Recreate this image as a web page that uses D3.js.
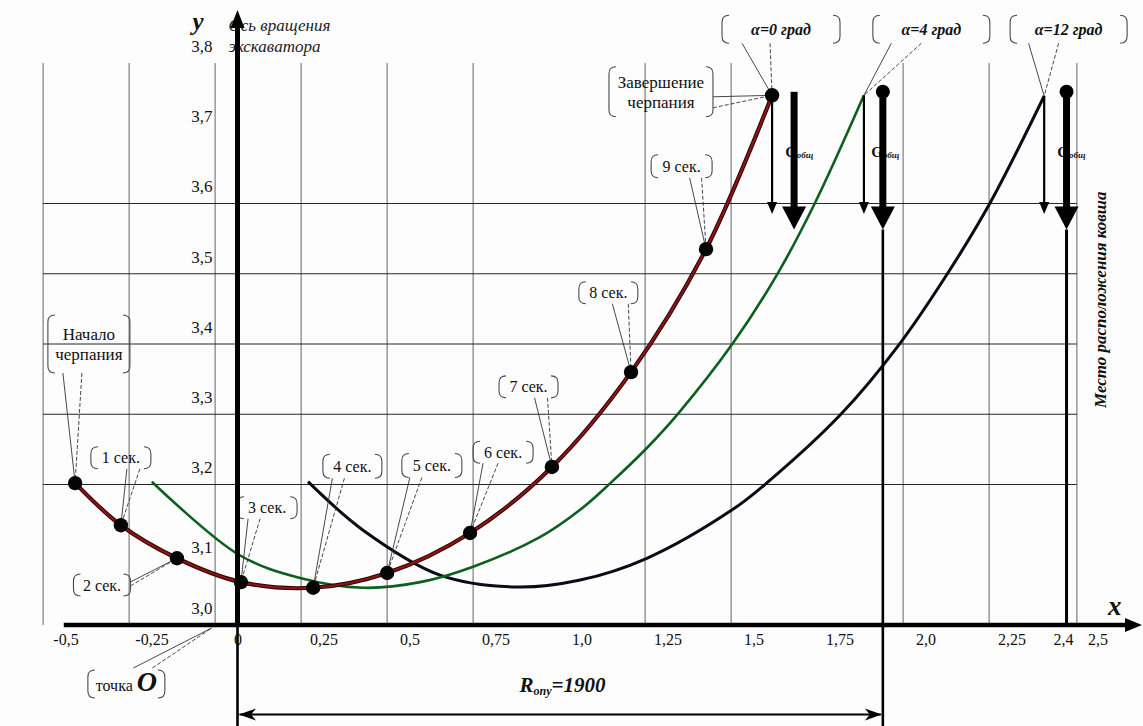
<!DOCTYPE html>
<html lang="ru">
<head>
<meta charset="utf-8">
<title>Траектория ковша экскаватора</title>
<script src="https://cdn.jsdelivr.net/npm/d3@7"></script>
<style>
  body { margin: 0; background: #fff; }
  svg { display: block; }
  svg text { font-family: "Liberation Serif", "Times New Roman", Tinos, "Noto Serif", "DejaVu Serif", serif; }
</style>
</head>
<body>
<svg id="chart" width="1143" height="726" font-family="Liberation Serif, Times New Roman, DejaVu Serif, serif"></svg>
<script>
// ── data (x, y in metres) ──
const xTicks = [-0.5, -0.25, 0, 0.25, 0.5, 0.75, 1.0, 1.25, 1.5, 1.75, 2.0, 2.25, 2.4, 2.5];
const xTickLabels = ["-0,5", "-0,25", "0", "0,25", "0,5", "0,75", "1,0", "1,25", "1,5", "1,75", "2,0", "2,25", "2,4", "2,5"];
const yTicks = [3.0, 3.1, 3.2, 3.3, 3.4, 3.5, 3.6, 3.7, 3.8];
const yTickLabels = ["3,0", "3,1", "3,2", "3,3", "3,4", "3,5", "3,6", "3,7", "3,8"];

// grid of the original sheet (it is not aligned to the tick labels)
const gridX = [-0.565, -0.315, -0.065, 0.185, 0.435, 0.685, 1.185, 1.435, 1.935, 2.185, 2.44];
const gridY = [3.2, 3.3, 3.4, 3.5, 3.6];

// α = 0 град: start, 1..9 s, end of digging
const pathAlpha0 = [
  [-0.472, 3.202], [-0.339, 3.142], [-0.176, 3.095], [0.010, 3.061], [0.220, 3.053],
  [0.435, 3.074], [0.676, 3.131], [0.914, 3.225], [1.144, 3.360], [1.362, 3.535], [1.554, 3.754]
];
// α = 4 град
const pathAlpha4 = [
  [-0.249, 3.204], [0.004, 3.100], [0.182, 3.067], [0.365, 3.053], [0.531, 3.061],
  [0.685, 3.083], [0.879, 3.125], [0.996, 3.164], [1.084, 3.202], [1.190, 3.252],
  [1.281, 3.301], [1.440, 3.401], [1.571, 3.501], [1.679, 3.601], [1.821, 3.754]
];
// α = 12 град
const pathAlpha12 = [
  [0.205, 3.204], [0.365, 3.135], [0.589, 3.071], [0.812, 3.054], [0.996, 3.064],
  [1.190, 3.095], [1.438, 3.164], [1.538, 3.202], [1.756, 3.301], [1.926, 3.401],
  [2.065, 3.501], [2.188, 3.601], [2.345, 3.753]
];

const radiusX = 1.876;   // Rопу = 1900 (as drawn)
const bucketX = 2.41;    // место расположения ковша
const loadX = 1.618;     // first Gобщ arrow

// ── annotation layout ──
const callouts = [
  { text: ["Начало", "черпания"], cx: -0.432, cy: 3.400, w: 82, h: 58, size: 17, target: pathAlpha0[0], side: "bottom", lead: [-26, -7] },
  { text: ["1 сек."], cx: -0.339, cy: 3.238, w: 60, h: 22, size: 16, target: pathAlpha0[1], side: "bottom", lead: [6, 19] },
  { text: ["2 сек."], cx: -0.394, cy: 3.057, w: 57, h: 22, size: 16, target: pathAlpha0[2], side: "right", lead: [-3, 1] },
  { text: ["3 сек."], cx: 0.086, cy: 3.167, w: 60, h: 22, size: 16, target: pathAlpha0[3], side: "bottom", lead: [-19, -7] },
  { text: ["4 сек."], cx: 0.334, cy: 3.226, w: 59, h: 24, size: 16, target: pathAlpha0[4], side: "bottom", lead: [-20, -8] },
  { text: ["5 сек."], cx: 0.565, cy: 3.227, w: 60, h: 24, size: 16, target: pathAlpha0[5], side: "bottom", lead: [-22, -10] },
  { text: ["6 сек."], cx: 0.772, cy: 3.246, w: 60, h: 22, size: 16, target: pathAlpha0[6], side: "bottom", lead: [-20, -5] },
  { text: ["7 сек."], cx: 0.846, cy: 3.339, w: 59, h: 22, size: 16, target: pathAlpha0[7], side: "bottom", lead: [6, 19] },
  { text: ["8 сек."], cx: 1.078, cy: 3.473, w: 59, h: 22, size: 16, target: pathAlpha0[8], side: "bottom", lead: [4, 20] },
  { text: ["9 сек."], cx: 1.291, cy: 3.653, w: 61, h: 23, size: 16, target: pathAlpha0[9], side: "bottom", lead: [8, 20] },
  { text: ["Завершение", "черпания"], cx: 1.231, cy: 3.759, w: 104, h: 50, size: 17, target: pathAlpha0[10], side: "right", lead: [5, 16] },
  { text: ["α=0 град"], cx: 1.580, cy: 3.848, w: 118, h: 28, size: 16, bold: true, target: pathAlpha0[10], side: "bottom", lead: [-39, -11] },
  { text: ["α=4 град"], cx: 2.017, cy: 3.848, w: 117, h: 28, size: 16, bold: true, target: pathAlpha4[pathAlpha4.length - 1], side: "bottom", lead: [-40, -10] },
  { text: ["α=12 град"], cx: 2.416, cy: 3.848, w: 117, h: 28, size: 16, bold: true, target: pathAlpha12[pathAlpha12.length - 1], side: "bottom", lead: [-40, -10] }
];
const originCallout = { cx: -0.323, cy: 2.916, w: 77, h: 28, target: [-0.075, 3.0], lead: [7, 26] };

// ── scales ──
const W = 1143, H = 726;
const serif = "Liberation Serif, Times New Roman, DejaVu Serif, serif";
const x = d3.scaleLinear().domain([-0.5, 2.5]).range([65.5, 1097.5]);
const y = d3.scaleLinear().domain([3.0, 3.8]).range([625, 63]);
const x0 = x(0), yBase = y(3.0);

const svg = d3.select("#chart");
svg.append("rect").attr("width", W).attr("height", H).attr("fill", "#fdfdfd");

// ── grid ──
svg.append("g").selectAll("line").data(gridX).join("line")
  .attr("x1", d => x(d)).attr("x2", d => x(d))
  .attr("y1", y(3.8)).attr("y2", yBase)
  .attr("stroke", "#8f8f8f").attr("stroke-width", 1.4);

svg.append("g").selectAll("line").data(gridY).join("line")
  .attr("x1", x(gridX[0])).attr("x2", x(gridX[gridX.length - 1]))
  .attr("y1", d => y(d)).attr("y2", d => y(d))
  .attr("stroke", "#262626").attr("stroke-width", 1.2);

// ── tick labels ──
const xAxisG = svg.append("g")
  .attr("transform", `translate(0,${yBase})`)
  .call(d3.axisBottom(x).tickValues(xTicks).tickFormat((d, i) => xTickLabels[i]).tickSize(0).tickPadding(9));
xAxisG.select(".domain").remove();
xAxisG.attr("font-family", serif).attr("font-size", 16);
xAxisG.selectAll("text").attr("fill", "#111");

const yAxisG = svg.append("g")
  .attr("transform", `translate(${x0},0)`)
  .call(d3.axisLeft(y).tickValues(yTicks).tickFormat((d, i) => yTickLabels[i]).tickSize(0).tickPadding(25));
yAxisG.select(".domain").remove();
yAxisG.attr("font-family", serif).attr("font-size", 17);
yAxisG.selectAll("text").attr("fill", "#111").attr("y", d => d === 3.1 ? -8 : -17);

// ── trajectories ──
const line = d3.line().x(d => x(d[0])).y(d => y(d[1])).curve(d3.curveCatmullRom.alpha(0.5));

svg.append("path").datum(pathAlpha12).attr("d", line)
  .attr("fill", "none").attr("stroke", "#0b0b18").attr("stroke-width", 3);
svg.append("path").datum(pathAlpha4).attr("d", line)
  .attr("fill", "none").attr("stroke", "#0d5f1c").attr("stroke-width", 2.6);
svg.append("path").datum(pathAlpha0).attr("d", line)
  .attr("fill", "none").attr("stroke", "#2a0505").attr("stroke-width", 4.2);
svg.append("path").datum(pathAlpha0).attr("d", line)
  .attr("fill", "none").attr("stroke", "#8a1414").attr("stroke-width", 2.2);

// ── callouts ──
const cg = svg.append("g");

function bracket(g, X0, Y0, X1, Y1) {
  const r = 7;
  g.append("path")
    .attr("d", `M${X0 + r},${Y0} Q${X0},${Y0} ${X0},${Y0 + r} V${Y1 - r} Q${X0},${Y1} ${X0 + r},${Y1}`)
    .attr("fill", "none").attr("stroke", "#4a4a4a").attr("stroke-width", 1.1);
  g.append("path")
    .attr("d", `M${X1 - r},${Y0} Q${X1},${Y0} ${X1},${Y0 + r} V${Y1 - r} Q${X1},${Y1} ${X1 - r},${Y1}`)
    .attr("fill", "none").attr("stroke", "#4a4a4a").attr("stroke-width", 1.1);
}

function leaders(g, starts, tx, ty) {
  starts.forEach((p, i) => {
    g.append("line")
      .attr("x1", p[0]).attr("y1", p[1]).attr("x2", tx).attr("y2", ty)
      .attr("stroke", "#333").attr("stroke-width", 0.9)
      .attr("stroke-dasharray", i === 0 ? null : "4,2");
  });
}

callouts.forEach(c => {
  const CX = x(c.cx), CY = y(c.cy);
  const X0 = CX - c.w / 2, X1 = CX + c.w / 2, Y0 = CY - c.h / 2, Y1 = CY + c.h / 2;
  const tx = x(c.target[0]), ty = y(c.target[1]);
  let starts;
  if (c.side === "right") starts = c.lead.map(d => [X1, CY + d]);
  else starts = c.lead.map(d => [CX + d, Y1]);
  leaders(cg, starts, tx, ty);
  bracket(cg, X0, Y0, X1, Y1);
  const lh = c.size * 1.2;
  const t = cg.append("text")
    .attr("text-anchor", "middle")
    .attr("font-family", serif)
    .attr("font-size", c.size)
    .attr("font-style", c.bold ? "italic" : null)
    .attr("font-weight", c.bold ? "bold" : null)
    .attr("fill", "#111");
  c.text.forEach((s, i) => {
    t.append("tspan")
      .attr("x", CX)
      .attr("y", CY + (i - (c.text.length - 1) / 2) * lh)
      .attr("dy", "0.35em")
      .text(s);
  });
});

// точка O
{
  const c = originCallout;
  const CX = x(c.cx), CY = y(c.cy);
  const X0 = CX - c.w / 2, X1 = CX + c.w / 2, Y0 = CY - c.h / 2, Y1 = CY + c.h / 2;
  leaders(cg, c.lead.map(d => [CX + d, Y0 - 2]), x(c.target[0]), y(c.target[1]) + 3);
  bracket(cg, X0, Y0, X1, Y1);
  const t = cg.append("text").attr("x", CX).attr("y", CY + 7).attr("text-anchor", "middle")
    .attr("font-family", serif).attr("fill", "#111");
  t.append("tspan").attr("font-size", 16).text("точка ");
  t.append("tspan").attr("font-size", 28).attr("font-weight", "bold").attr("font-style", "italic").text("O");
}

// ── time-mark dots on α = 0 path ──
svg.append("g").selectAll("circle").data(pathAlpha0).join("circle")
  .attr("cx", d => x(d[0])).attr("cy", d => y(d[1])).attr("r", 7.2)
  .attr("fill", "#050505");

// ── load arrows Gобщ ──
const arrowTop = 3.759, thickTip = 3.563, thinTip = 3.585, gLabelY = 3.673;
const ag = svg.append("g");

function arrowDown(X, top, tip, shaft, headW, headL) {
  ag.append("line").attr("x1", X).attr("x2", X).attr("y1", top).attr("y2", tip - headL + 1)
    .attr("stroke", "#000").attr("stroke-width", shaft);
  ag.append("path")
    .attr("d", `M${X - headW / 2},${tip - headL} L${X + headW / 2},${tip - headL} L${X},${tip} Z`)
    .attr("fill", "#000");
}

// Gобщ labels (partly covered by the thick arrows, as in the original)
[[loadX - 0.026], [radiusX - 0.034], [bucketX - 0.027]].forEach(d => {
  const t = ag.append("text").attr("x", x(d[0])).attr("y", y(gLabelY) + 5).attr("fill", "#111")
    .attr("font-family", serif).attr("font-weight", "bold");
  t.append("tspan").attr("font-size", 15).text("G");
  t.append("tspan").attr("font-size", 9).attr("font-style", "italic").attr("dy", 1).text("общ");
});

// thin arrows from the end of each trajectory
[pathAlpha0, pathAlpha4, pathAlpha12].forEach(p => {
  const end = p[p.length - 1];
  arrowDown(x(end[0]), y(end[1]), y(thinTip), 2.2, 10, 12);
});

// thick arrows
arrowDown(x(loadX), y(arrowTop), y(thickTip), 7, 24, 23);
arrowDown(x(radiusX), y(arrowTop), y(thickTip), 7, 24, 23);
arrowDown(x(bucketX), y(arrowTop), y(thickTip), 7, 24, 23);
[radiusX, bucketX].forEach(v => {
  ag.append("circle").attr("cx", x(v)).attr("cy", y(arrowTop)).attr("r", 7).attr("fill", "#000");
});

// continuation lines below the arrows
ag.append("line").attr("x1", x(radiusX)).attr("x2", x(radiusX))
  .attr("y1", y(thickTip)).attr("y2", H).attr("stroke", "#000").attr("stroke-width", 2.6);
ag.append("line").attr("x1", x(bucketX)).attr("x2", x(bucketX))
  .attr("y1", y(thickTip)).attr("y2", yBase).attr("stroke", "#000").attr("stroke-width", 3);

// ── axes ──
const axG = svg.append("g").attr("font-family", serif);
// "Ось вращения экскаватора" (its first letters sit under the axis)
axG.append("text").attr("x", x0 - 9).attr("y", 31).attr("font-size", 17).attr("font-style", "italic")
  .attr("fill", "#222").text("Ось вращения");
axG.append("text").attr("x", x0 - 9).attr("y", 52).attr("font-size", 17).attr("font-style", "italic")
  .attr("fill", "#222").text("экскаватора");

// y axis
axG.append("line").attr("x1", x0).attr("x2", x0).attr("y1", yBase + 2).attr("y2", 26)
  .attr("stroke", "#000").attr("stroke-width", 5);
axG.append("path").attr("d", `M${x0 - 7},${28} L${x0 + 7},${28} L${x0},${10} Z`).attr("fill", "#000");
axG.append("line").attr("x1", x0).attr("x2", x0).attr("y1", yBase).attr("y2", H)
  .attr("stroke", "#000").attr("stroke-width", 2.6);
axG.append("text").attr("x", x0 - 45).attr("y", 30).attr("font-size", 25)
  .attr("font-weight", "bold").attr("font-style", "italic").attr("fill", "#111").text("y");

// x axis
axG.append("line").attr("x1", x(-0.505)).attr("x2", W - 16).attr("y1", yBase).attr("y2", yBase)
  .attr("stroke", "#000").attr("stroke-width", 4.5);
axG.append("path").attr("d", `M${W - 18},${yBase - 7} L${W - 18},${yBase + 7} L${W - 1},${yBase} Z`).attr("fill", "#000");
axG.append("text").attr("x", W - 35).attr("y", yBase - 10).attr("font-size", 27)
  .attr("font-weight", "bold").attr("font-style", "italic").attr("fill", "#111").text("x");

// "Место расположения ковша"
axG.append("text")
  .attr("transform", `translate(${x(2.507)},${y(3.463)}) rotate(-90)`)
  .attr("text-anchor", "middle").attr("dy", "0.35em")
  .attr("font-size", 17).attr("font-weight", "bold").attr("font-style", "italic").attr("fill", "#111")
  .text("Место расположения ковша");

// ── dimension Rопу ──
const dimY = y(2.8725);
axG.append("line").attr("x1", x0 + 2).attr("x2", x(radiusX) - 2).attr("y1", dimY).attr("y2", dimY)
  .attr("stroke", "#000").attr("stroke-width", 2);
const XR = x(radiusX) - 1, XL = x0 + 1.5;
axG.append("path").attr("d", `M${XR},${dimY} L${XR - 17},${dimY - 6} L${XR - 12},${dimY} L${XR - 17},${dimY + 6} Z`).attr("fill", "#000");
axG.append("path").attr("d", `M${XL},${dimY} L${XL + 17},${dimY - 6} L${XL + 12},${dimY} L${XL + 17},${dimY + 6} Z`).attr("fill", "#000");

const rl = axG.append("text").attr("x", x(0.945)).attr("y", y(2.905)).attr("text-anchor", "middle")
  .attr("font-weight", "bold").attr("font-style", "italic").attr("fill", "#111");
rl.append("tspan").attr("font-size", 21).text("R");
rl.append("tspan").attr("font-size", 12).attr("dy", 3).text("опу");
rl.append("tspan").attr("font-size", 21).attr("dy", -3).text("=1900");
</script>
</body>
</html>
